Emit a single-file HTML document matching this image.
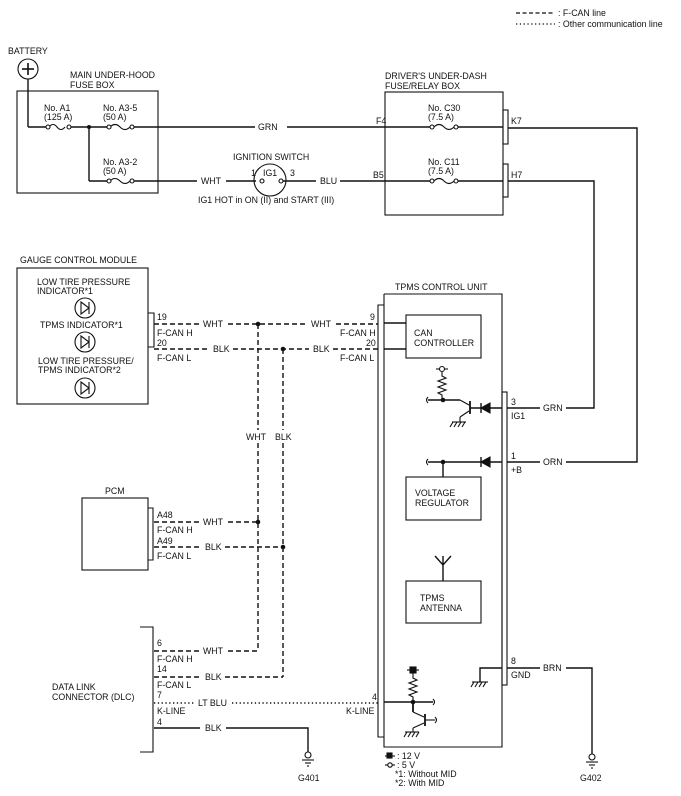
<!DOCTYPE html>
<html><head><meta charset="utf-8"><style>
html,body{margin:0;padding:0;background:#fff;}
svg{display:block;}
text{font-family:"Liberation Sans",Arial,sans-serif;font-size:8.8px;fill:#111;}
</style></head><body>
<svg width="681" height="796" viewBox="0 0 681 796" xmlns="http://www.w3.org/2000/svg">
<g stroke="#111" fill="none" stroke-width="1.1">
<line x1="516" y1="13" x2="555" y2="13" stroke-dasharray="4,2.5" stroke-width="1.3"/>
<line x1="516" y1="24" x2="555" y2="24" stroke-dasharray="1.3,2.5" stroke-width="1.3"/>

<circle cx="28" cy="69" r="10"/>
<line x1="28" y1="63" x2="28" y2="75" stroke-width="1.6"/>
<line x1="22" y1="69" x2="34" y2="69" stroke-width="1.6"/>
<line x1="28" y1="79" x2="28" y2="127" stroke-width="1.4"/>
<rect x="17" y="91" width="141" height="102"/>
<line x1="28" y1="127" x2="46" y2="127" stroke-width="1.4"/>
<path d="M49 127 q4 -5 8 0 q4 5 8 0"/><circle cx="48" cy="127" r="2" fill="#fff"/><circle cx="69" cy="127" r="2" fill="#fff"/>
<line x1="71" y1="127" x2="107" y2="127" stroke-width="1.4"/>
<path d="M110 127 q5 -5 10 0 q5 5 10 0"/><circle cx="109" cy="127" r="2" fill="#fff"/><circle cx="132" cy="127" r="2" fill="#fff"/>
<line x1="134" y1="127" x2="255" y2="127" stroke-width="1.4"/>
<line x1="287" y1="127" x2="431" y2="127" stroke-width="1.4"/>
<line x1="89" y1="127" x2="89" y2="181" stroke-width="1.4"/>
<line x1="89" y1="181" x2="107" y2="181" stroke-width="1.4"/>
<path d="M110 181 q5 -5 10 0 q5 5 10 0"/><circle cx="109" cy="181" r="2" fill="#fff"/><circle cx="132" cy="181" r="2" fill="#fff"/>
<line x1="134" y1="181" x2="197" y2="181" stroke-width="1.4"/>
<line x1="226" y1="181" x2="256" y2="181" stroke-width="1.4"/>
<circle cx="270" cy="180" r="16"/>
<circle cx="262" cy="181" r="2" fill="#fff"/><circle cx="281" cy="181" r="2" fill="#fff"/>
<line x1="283" y1="181" x2="316" y2="181" stroke-width="1.4"/>
<line x1="340" y1="181" x2="431" y2="181" stroke-width="1.4"/>
<rect x="385" y="92" width="118" height="123"/>
<path d="M434 127 q5 -5 10 0 q5 5 10 0"/><circle cx="432" cy="127" r="2" fill="#fff"/><circle cx="456" cy="127" r="2" fill="#fff"/>
<line x1="458" y1="127" x2="503" y2="127" stroke-width="1.4"/>
<path d="M434 181 q5 -5 10 0 q5 5 10 0"/><circle cx="432" cy="181" r="2" fill="#fff"/><circle cx="456" cy="181" r="2" fill="#fff"/>
<line x1="458" y1="181" x2="503" y2="181" stroke-width="1.4"/>
<rect x="503" y="110" width="5" height="34"/>
<rect x="503" y="164" width="5" height="33"/>
<polyline points="508,128 637,128 637,462 566,462" stroke-width="1.4"/>
<polyline points="508,181 594,181 594,408 566,408" stroke-width="1.4"/>

<rect x="17" y="268" width="131" height="136"/>
<circle cx="85" cy="308" r="10"/><path d="M81 302 L89 308 L81 314 Z M89 302 L89 314"/>
<circle cx="85" cy="342" r="10"/><path d="M81 336 L89 342 L81 348 Z M89 336 L89 348"/>
<circle cx="85" cy="388" r="10"/><path d="M81 382 L89 388 L81 394 Z M89 382 L89 394"/>
<polyline points="148,313 154,313 154,347 148,347"/>
<g stroke-dasharray="5,3" stroke-width="1.4">
<line x1="154" y1="324" x2="200" y2="324"/>
<line x1="228" y1="324" x2="307" y2="324"/>
<line x1="336" y1="324" x2="378" y2="324"/>
<line x1="154" y1="349" x2="210" y2="349"/>
<line x1="233" y1="349" x2="309" y2="349"/>
<line x1="333" y1="349" x2="378" y2="349"/>
<line x1="258" y1="324" x2="258" y2="430"/>
<line x1="258" y1="443" x2="258" y2="651"/>
<line x1="283" y1="349" x2="283" y2="430"/>
<line x1="283" y1="443" x2="283" y2="677"/>
<line x1="154" y1="522" x2="200" y2="522"/>
<line x1="228" y1="522" x2="258" y2="522"/>
<line x1="154" y1="547" x2="202" y2="547"/>
<line x1="225" y1="547" x2="283" y2="547"/>
<line x1="154" y1="651" x2="200" y2="651"/>
<line x1="228" y1="651" x2="258" y2="651"/>
<line x1="154" y1="677" x2="202" y2="677"/>
<line x1="225" y1="677" x2="283" y2="677"/>
</g>
<g fill="#111" stroke="none">
<circle cx="258" cy="324" r="2.3"/><circle cx="283" cy="349" r="2.3"/>
<circle cx="258" cy="522" r="2.3"/><circle cx="283" cy="547" r="2.3"/>
</g>
<rect x="82" y="498" width="66" height="72"/>
<polyline points="148,508 153,508 153,560 148,560"/>
<polyline points="140,627 153,627 153,752 140,752"/>
<g stroke-dasharray="1.3,2.5" stroke-width="1.4">
<line x1="154" y1="703" x2="195" y2="703"/>
<line x1="232" y1="703" x2="378" y2="703"/>
</g>
<polyline points="154,728 200,728" stroke-width="1.4"/>
<polyline points="226,728 308,728 308,752" stroke-width="1.4"/>
<circle cx="308" cy="755" r="3"/>
<line x1="302" y1="760" x2="314" y2="760"/><line x1="305" y1="763" x2="311" y2="763"/><line x1="307" y1="766" x2="309" y2="766"/>

<polyline points="384,294 502,294 502,747 384,747 384,294"/>
<polyline points="384,305 378,305 378,737 384,737"/>
<rect x="502" y="392" width="5" height="293"/>
<rect x="406" y="315" width="75" height="43"/>
<line x1="384" y1="323" x2="406" y2="323" stroke-width="1.4"/>
<line x1="384" y1="349" x2="406" y2="349" stroke-width="1.4"/>
<line x1="436" y1="369" x2="440" y2="369"/><line x1="444" y1="369" x2="448" y2="369"/>
<circle cx="442" cy="369" r="2.5" fill="#fff"/>
<polyline points="442,372 442,376 446,378 438,381 446,384 438,387 446,390 438,393 442,395 442,400"/>
<path d="M428 397 q-3 3 0 6"/>
<line x1="428" y1="400" x2="460" y2="400" stroke-width="1.4"/>
<line x1="460" y1="400" x2="469" y2="405"/>
<line x1="470" y1="401" x2="470" y2="414" stroke-width="1.8"/>
<line x1="469" y1="411" x2="460" y2="417"/>
<line x1="460" y1="417" x2="460" y2="422"/>
<line x1="452" y1="422" x2="466" y2="422"/><line x1="453" y1="422" x2="450" y2="427"/><line x1="457" y1="422" x2="454" y2="427"/><line x1="461" y1="422" x2="458" y2="427"/><line x1="465" y1="422" x2="462" y2="427"/>
<line x1="470" y1="408" x2="502" y2="408" stroke-width="1.4"/>
<line x1="481" y1="403" x2="481" y2="413" stroke-width="1.4"/>
<path d="M481 408 L490 403 L490 413 Z" fill="#111"/>
<line x1="507" y1="408" x2="540" y2="408" stroke-width="1.4"/>
<path d="M428 459 q-3 3 0 6"/>
<line x1="428" y1="462" x2="502" y2="462" stroke-width="1.4"/>
<line x1="481" y1="457" x2="481" y2="467" stroke-width="1.4"/>
<path d="M481 462 L490 457 L490 467 Z" fill="#111"/>
<line x1="443" y1="462" x2="443" y2="477" stroke-width="1.4"/>
<line x1="507" y1="462" x2="540" y2="462" stroke-width="1.4"/>
<rect x="406" y="477" width="75" height="43"/>
<path d="M435 556 L443 565 L451 556 M443 556 L443 581" stroke-width="1.4"/>
<rect x="406" y="581" width="75" height="42"/>
<polyline points="480,682 480,668 502,668" stroke-width="1.4"/>
<line x1="472" y1="682" x2="488" y2="682"/><line x1="474" y1="682" x2="471" y2="687"/><line x1="478" y1="682" x2="475" y2="687"/><line x1="482" y1="682" x2="479" y2="687"/><line x1="486" y1="682" x2="483" y2="687"/>
<line x1="507" y1="668" x2="540" y2="668" stroke-width="1.4"/>
<polyline points="566,668 592,668 592,754" stroke-width="1.4"/>
<circle cx="592" cy="757" r="3"/>
<line x1="586" y1="762" x2="598" y2="762"/><line x1="589" y1="765" x2="595" y2="765"/><line x1="591" y1="768" x2="593" y2="768"/>
<line x1="407" y1="670" x2="419" y2="670"/>
<rect x="410" y="667" width="6" height="6" fill="#111"/>
<polyline points="413,673 413,678 417,680 409,683 417,686 409,689 417,692 409,695 413,697 413,702"/>
<line x1="384" y1="702" x2="433" y2="702" stroke-width="1.4"/>
<path d="M433 699 q3 3 0 6"/>
<line x1="413" y1="702" x2="413" y2="712" stroke-width="1.8"/>
<line x1="413" y1="712" x2="424" y2="717"/>
<line x1="425" y1="714" x2="425" y2="726" stroke-width="1.8"/>
<line x1="425" y1="720" x2="435" y2="720"/><path d="M435 717 q3 3 0 6"/>
<line x1="424" y1="723" x2="413" y2="728"/>
<line x1="413" y1="728" x2="413" y2="732"/>
<line x1="405" y1="732" x2="419" y2="732"/><line x1="407" y1="732" x2="404" y2="737"/><line x1="411" y1="732" x2="408" y2="737"/><line x1="415" y1="732" x2="412" y2="737"/><line x1="419" y1="732" x2="416" y2="737"/>
<line x1="385" y1="756" x2="395" y2="756"/><rect x="387" y="753" width="5" height="5" fill="#111"/>
<line x1="385" y1="765" x2="395" y2="765"/><circle cx="390" cy="765" r="2.2" fill="#fff"/>
</g>
<g fill="#111" stroke="none"><circle cx="89" cy="127" r="2"/><circle cx="443" cy="400" r="2.3"/><circle cx="443" cy="462" r="2.3"/><circle cx="413" cy="702" r="2.3"/></g>

<text x="558" y="16">: F-CAN line</text>
<text x="558" y="27">: Other communication line</text>
<text x="8" y="54">BATTERY</text>
<text x="70" y="78">MAIN UNDER-HOOD</text>
<text x="70" y="88">FUSE BOX</text>
<text x="44" y="111">No. A1</text><text x="44" y="120">(125 A)</text>
<text x="103" y="111">No. A3-5</text><text x="103" y="120">(50 A)</text>
<text x="103" y="165">No. A3-2</text><text x="103" y="174">(50 A)</text>
<text x="258" y="130">GRN</text>
<text x="201" y="184">WHT</text>
<text x="233" y="160">IGNITION SWITCH</text>
<text x="251" y="176">1</text><text x="263" y="176">IG1</text><text x="290" y="176">3</text>
<text x="320" y="184">BLU</text>
<text x="198" y="203">IG1 HOT in ON (II) and START (III)</text>
<text x="385" y="79">DRIVER'S UNDER-DASH</text>
<text x="385" y="89">FUSE/RELAY BOX</text>
<text x="376" y="124">F4</text><text x="373" y="178">B5</text>
<text x="428" y="111">No. C30</text><text x="428" y="120">(7.5 A)</text>
<text x="428" y="165">No. C11</text><text x="428" y="174">(7.5 A)</text>
<text x="511" y="124">K7</text><text x="511" y="178">H7</text>
<text x="20" y="263">GAUGE CONTROL MODULE</text>
<text x="37" y="285">LOW TIRE PRESSURE</text><text x="37" y="294">INDICATOR*1</text>
<text x="40" y="328">TPMS INDICATOR*1</text>
<text x="38" y="364">LOW TIRE PRESSURE/</text><text x="38" y="373">TPMS INDICATOR*2</text>
<text x="157" y="320">19</text><text x="157" y="336">F-CAN H</text>
<text x="157" y="346">20</text><text x="157" y="361">F-CAN L</text>
<text x="203" y="327">WHT</text><text x="311" y="327">WHT</text>
<text x="213" y="352">BLK</text><text x="313" y="352">BLK</text>
<text x="370" y="320">9</text><text x="340" y="336">F-CAN H</text>
<text x="366" y="346">20</text><text x="340" y="361">F-CAN L</text>
<text x="246" y="440">WHT</text><text x="275" y="440">BLK</text>
<text x="395" y="290">TPMS CONTROL UNIT</text>
<text x="414" y="336">CAN</text><text x="414" y="346">CONTROLLER</text>
<text x="511" y="405">3</text><text x="511" y="419">IG1</text>
<text x="543" y="411">GRN</text>
<text x="511" y="459">1</text><text x="511" y="473">+B</text>
<text x="543" y="465">ORN</text>
<text x="415" y="496">VOLTAGE</text><text x="415" y="506">REGULATOR</text>
<text x="420" y="601">TPMS</text><text x="420" y="611">ANTENNA</text>
<text x="511" y="664">8</text><text x="511" y="678">GND</text>
<text x="543" y="671">BRN</text>
<text x="105" y="494">PCM</text>
<text x="157" y="518">A48</text><text x="157" y="533">F-CAN H</text>
<text x="157" y="544">A49</text><text x="157" y="559">F-CAN L</text>
<text x="203" y="525">WHT</text><text x="205" y="550">BLK</text>
<text x="52" y="690">DATA LINK</text><text x="52" y="700">CONNECTOR (DLC)</text>
<text x="157" y="646">6</text><text x="157" y="662">F-CAN H</text>
<text x="157" y="672">14</text><text x="157" y="688">F-CAN L</text>
<text x="157" y="698">7</text><text x="157" y="714">K-LINE</text>
<text x="157" y="725">4</text>
<text x="203" y="654">WHT</text><text x="205" y="680">BLK</text>
<text x="198" y="706">LT BLU</text><text x="205" y="731">BLK</text>
<text x="372" y="700">4</text><text x="346" y="714">K-LINE</text>
<text x="298" y="781">G401</text><text x="580" y="781">G402</text>
<text x="397" y="759">: 12 V</text><text x="397" y="768">: 5 V</text>
<text x="395" y="777">*1: Without MID</text><text x="395" y="786">*2: With MID</text>
</svg>
</body></html>
